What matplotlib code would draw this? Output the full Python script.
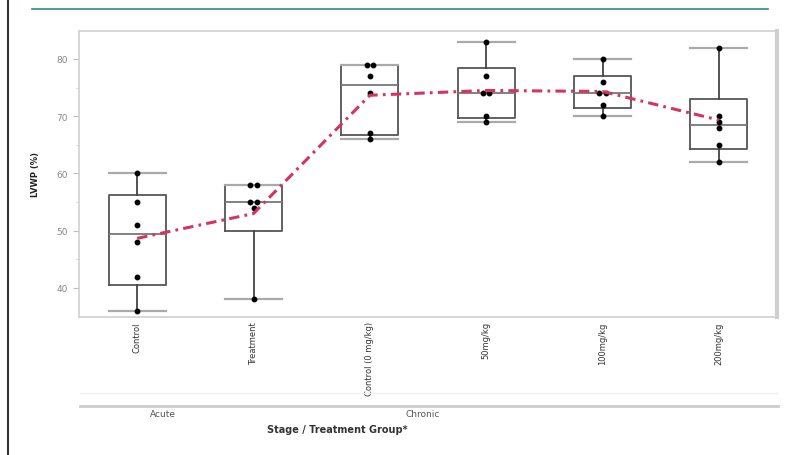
import numpy as np
import matplotlib
matplotlib.use("Agg")
import matplotlib.pyplot as plt
from matplotlib.lines import Line2D

# Groups and per-animal measurements
groups = ["Control", "Treatment", "Control (0 mg/kg)", "50mg/kg", "100mg/kg", "200mg/kg"]
stages = ["Acute", "Chronic"]
control_acute = [36, 42, 48, 51, 55, 60]
treatment_acute = [38, 54, 55, 55, 58, 58]
control_chronic = [66, 67, 74, 77, 79, 79]
dose_50 = [69, 70, 74, 74, 77, 83]
dose_100 = [70, 72, 74, 74, 76, 80]
dose_200 = [62, 65, 68, 69, 70, 82]
y_ticks = [40, 50, 60, 70, 80]
y_label = "LVWP (%)"
x_title = "Stage / Treatment Group*"

series = [control_acute, treatment_acute, control_chronic, dose_50, dose_100, dose_200]


def box_stats(vals):
    v = np.asarray(vals, float)
    q1, med, q3 = np.percentile(v, [25, 50, 75], method="weibull")
    iqr = q3 - q1
    lo = v[v >= q1 - 1.5 * iqr].min()
    hi = v[v <= q3 + 1.5 * iqr].max()
    return dict(med=med, q1=q1, q3=q3, whislo=lo, whishi=hi, fliers=[])


fig = plt.figure(figsize=(7.85, 4.56), dpi=100)
ax = fig.add_axes([79 / 785, 1 - 318 / 456, 698 / 785, 286 / 456])

pos = np.arange(len(groups))
stats = [box_stats(s) for s in series]
ax.bxp(stats, positions=pos, widths=0.49, showfliers=False, patch_artist=False,
       boxprops=dict(color="#555555", linewidth=1.3),
       medianprops=dict(color="#777777", linewidth=1.3),
       whiskerprops=dict(color="#444444", linewidth=1.3),
       capprops=dict(color="#aaaaaa", linewidth=1.6), capwidths=0.49)

# individual points, tied values placed side by side
for i, s in enumerate(series):
    vals, counts = np.unique(s, return_counts=True)
    for v, c in zip(vals, counts):
        offs = (np.arange(c) - (c - 1) / 2) * 0.055
        ax.plot(i + offs, [v] * c, "o", color="black", markersize=3.2, zorder=4)

# connect the group means
means = [np.mean(s) for s in series]
ax.plot(pos, means, color="#d4355f", linewidth=2.2, zorder=5,
        dashes=(3.4, 1.7, 0.9, 1.7))

ax.set_xlim(-0.5, len(groups) - 0.5)
ax.set_ylim(34.93, 84.89)
ax.set_yticks(y_ticks)
ax.set_yticks(np.arange(45, 80, 10), minor=True)
ax.set_xticks(pos)
ax.set_xticklabels(groups, rotation=90, fontsize=6, color="#333333")
ax.tick_params(axis="x", length=0, pad=3)
ax.tick_params(axis="y", which="major", length=4, color="#bbbbbb", labelsize=6.5,
               labelcolor="#888888", pad=4)
ax.tick_params(axis="y", which="minor", length=2.5, color="#cccccc")
for name, sp in ax.spines.items():
    sp.set_color("#cfcfcf")
    sp.set_linewidth(1.2)
ax.spines["right"].set_linewidth(3)
ax.set_ylabel(y_label, fontsize=6, fontweight="bold", color="#222222", labelpad=12)

# stage grouping below the category labels
fig.add_artist(Line2D([80 / 785, 778 / 785], [1 - 407 / 456] * 2, color="#cccccc", lw=2))
fig.add_artist(Line2D([80 / 785, 778 / 785], [1 - 394 / 456] * 2, color="#f0f0f0", lw=1))
fig.text(163 / 785, 1 - 415 / 456, stages[0], fontsize=6.5, color="#555555", ha="center", va="center")
fig.text(423 / 785, 1 - 415 / 456, stages[1], fontsize=6.5, color="#555555", ha="center", va="center")
fig.text(337 / 785, 1 - 430 / 456, x_title, fontsize=7, fontweight="bold", color="#333333",
         ha="center", va="center")

# page furniture: rule across the top and left margin line
fig.add_artist(Line2D([32 / 785, 768 / 785], [1 - 10 / 456] * 2, color="#2a8a8a", lw=1.2))
fig.add_artist(Line2D([8 / 785, 8 / 785], [0, 1], color="#333333", lw=1.5))

fig.savefig("out.png", dpi=100)
